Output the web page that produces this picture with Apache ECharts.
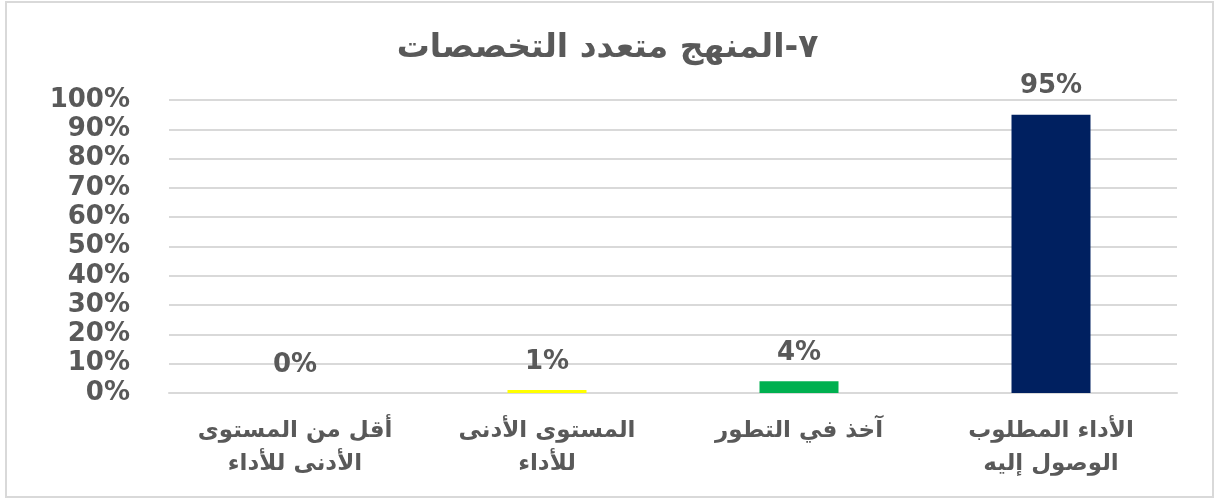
<!DOCTYPE html>
<html>
<head>
<meta charset="utf-8">
<script src="https://cdn.jsdelivr.net/npm/echarts@6/dist/echarts.min.js"></script>
<style>
    html, body { margin: 0; padding: 0; background: #fff; }
    #chart { width: 1215px; height: 500px; }
</style>
</head>
<body>
<div id="chart"></div>
<script>
// 数据
var title = '٧-المنهج متعدد التخصصات'
var categories = [
    'أقل من المستوى\nالأدنى للأداء',
    'المستوى الأدنى\nللأداء',
    'آخذ في التطور',
    'الأداء المطلوب\nالوصول إليه'
]
var values = [0, 1, 4, 95]
var barColors = ['#FFC000', '#FFFF00', '#00B050', '#002060']

var myChart = echarts.init(document.getElementById('chart'))

var option = {
    animation: false,
    backgroundColor: '#fff',
    title: {
        text: title,
        left: 'center',
        top: 27,
        textStyle: {
            fontFamily: 'DejaVu Sans',
            fontSize: 33,
            fontWeight: 'bold',
            color: '#595959'
        }
    },
    // 外框
    graphic: [{
        type: 'rect',
        shape: { x: 6, y: 2, width: 1207, height: 495 },
        style: { fill: 'none', stroke: '#d9d9d9', lineWidth: 2 },
        silent: true
    }],
    grid: {
        left: 169,
        right: 38,
        top: 100,
        bottom: 107
    },
    xAxis: {
        type: 'category',
        data: categories,
        axisLine: { lineStyle: { color: '#d9d9d9', width: 2 } },
        axisTick: { show: false },
        axisLabel: {
            interval: 0,
            hideOverlap: false,
            margin: 22,
            fontFamily: 'DejaVu Sans',
            fontSize: 23,
            fontWeight: 'bold',
            lineHeight: 33,
            color: '#595959'
        }
    },
    yAxis: {
        type: 'value',
        min: 0,
        max: 100,
        interval: 10,
        axisLine: { show: false },
        axisTick: { show: false },
        splitLine: { lineStyle: { color: '#d9d9d9', width: 2 } },
        axisLabel: {
            margin: 39,
            fontFamily: 'DejaVu Sans',
            fontSize: 26,
            fontWeight: 'bold',
            color: '#595959',
            formatter: '{value}%'
        }
    },
    series: [{
        type: 'bar',
        data: values.map(function (v, i) {
            return { value: v, itemStyle: { color: barColors[i] } }
        }),
        barWidth: 79,
        label: {
            show: true,
            position: 'top',
            distance: 15,
            fontFamily: 'DejaVu Sans',
            fontSize: 26,
            fontWeight: 'bold',
            color: '#595959',
            formatter: '{c}%'
        }
    }]
}

myChart.setOption(option)
</script>
</body>
</html>
